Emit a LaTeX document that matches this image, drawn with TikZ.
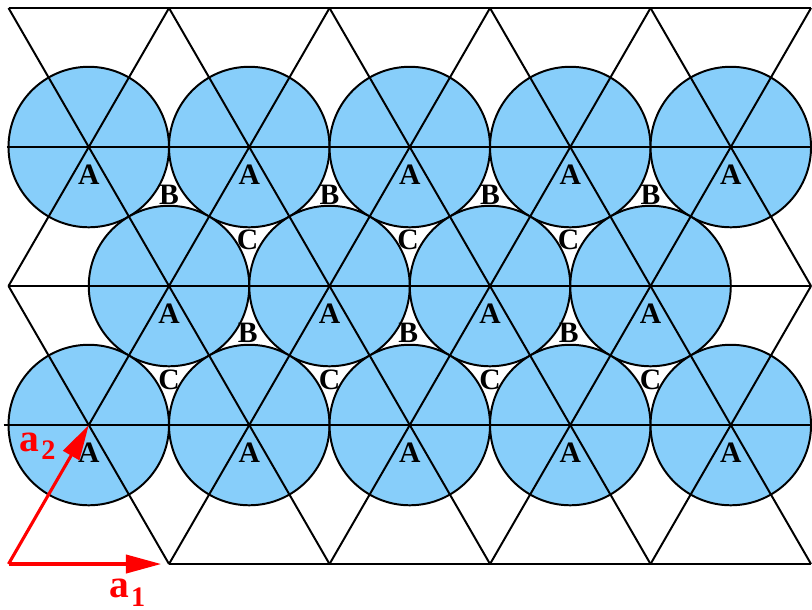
\documentclass[tikz,border=0pt]{standalone}
\usepackage{fontspec}
\setmainfont{Liberation Serif}
\usetikzlibrary{arrows.meta}
\definecolor{atomblue}{RGB}{135,206,250}

\begin{document}
\begin{tikzpicture}[scale=2,
  atom/.style={fill=atomblue,draw=black,line width=0.7pt},
  lattice/.style={black,line width=0.7pt},
  site/.style={font=\fontsize{10.5}{12}\selectfont\bfseries,inner sep=0pt},
  vec/.style={red,line width=1.1pt,-{Triangle[length=12.5pt,width=6.5pt]}},
  veclabel/.style={red,font=\fontsize{14}{16}\selectfont\bfseries,inner sep=0pt}]

\useasboundingbox (-0.053,-0.2804) rectangle (5.006,3.514);

% Capa superior de esferas
\draw[atom] (0.5,2.598) circle (0.5);
\draw[atom] (1.5,2.598) circle (0.5);
\draw[atom] (2.5,2.598) circle (0.5);
\draw[atom] (3.5,2.598) circle (0.5);
\draw[atom] (4.5,2.598) circle (0.5);

% Capa media de esferas
\draw[atom] (1,1.732) circle (0.5);
\draw[atom] (2,1.732) circle (0.5);
\draw[atom] (3,1.732) circle (0.5);
\draw[atom] (4,1.732) circle (0.5);

% Capa inferior de esferas
\draw[atom] (0.5,0.866) circle (0.5);
\draw[atom] (1.5,0.866) circle (0.5);
\draw[atom] (2.5,0.866) circle (0.5);
\draw[atom] (3.5,0.866) circle (0.5);
\draw[atom] (4.5,0.866) circle (0.5);

% Red triangular: lineas horizontales
\draw[lattice] (0,3.464) -- (5,3.464);
\draw[lattice] (-0.01,2.598) -- (5.01,2.598);
\draw[lattice] (0,1.732) -- (5,1.732);
\draw[lattice] (-0.03,0.866) -- (5.01,0.866);
\draw[lattice] (1,0) -- (5,0);

% Red triangular: diagonales hacia la derecha
\draw[lattice] (0,1.732) -- (1,3.464);
\draw[lattice] (0.5,0.866) -- (2,3.464);
\draw[lattice] (1,0) -- (3,3.464);
\draw[lattice] (2,0) -- (4,3.464);
\draw[lattice] (3,0) -- (5,3.464);
\draw[lattice] (4,0) -- (5,1.732);

% Red triangular: diagonales hacia la izquierda
\draw[lattice] (1,0) -- (0,1.732);
\draw[lattice] (2,0) -- (0,3.464);
\draw[lattice] (3,0) -- (1,3.464);
\draw[lattice] (4,0) -- (2,3.464);
\draw[lattice] (5,0) -- (3,3.464);
\draw[lattice] (5,1.732) -- (4,3.464);

% Sitios A (centros de las esferas)
\node[site] (A11) at (0.5,2.424) {A};
\node[site] (A12) at (1.5,2.424) {A};
\node[site] (A13) at (2.5,2.424) {A};
\node[site] (A14) at (3.5,2.424) {A};
\node[site] (A15) at (4.5,2.424) {A};
\node[site] (A21) at (1,1.558) {A};
\node[site] (A22) at (2,1.558) {A};
\node[site] (A23) at (3,1.558) {A};
\node[site] (A24) at (4,1.558) {A};
\node[site] (A31) at (0.5,0.692) {A};
\node[site] (A32) at (1.5,0.692) {A};
\node[site] (A33) at (2.5,0.692) {A};
\node[site] (A34) at (3.5,0.692) {A};
\node[site] (A35) at (4.5,0.692) {A};

% Huecos B y C entre la capa superior y la media
\node[site] (B11) at (1,2.302) {B};
\node[site] (B12) at (2,2.302) {B};
\node[site] (B13) at (3,2.302) {B};
\node[site] (B14) at (4,2.302) {B};
\node[site] (C11) at (1.49,2.020) {C};
\node[site] (C12) at (2.49,2.020) {C};
\node[site] (C13) at (3.49,2.020) {C};

% Huecos B y C entre la capa media y la inferior
\node[site] (B21) at (1.49,1.440) {B};
\node[site] (B22) at (2.49,1.440) {B};
\node[site] (B23) at (3.49,1.440) {B};
\node[site] (C21) at (1,1.148) {C};
\node[site] (C22) at (2,1.148) {C};
\node[site] (C23) at (3,1.148) {C};
\node[site] (C24) at (4,1.148) {C};

% Vectores base
\coordinate (O) at (0,0);
\coordinate (P1) at (1,0);
\coordinate (P2) at (0.5,0.866);
\draw[vec,shorten >=2.8pt] (O) -- (P1);
\draw[vec] (O) -- (P2);
\node[veclabel] (a1) at (0.74,-0.18) {a\kern0.8pt\raisebox{-3pt}{\fontsize{10}{11}\selectfont 1}};
\node[veclabel] (a2) at (0.18,0.735) {a\kern0.8pt\raisebox{-3pt}{\fontsize{10}{11}\selectfont 2}};

\end{tikzpicture}
\end{document}
